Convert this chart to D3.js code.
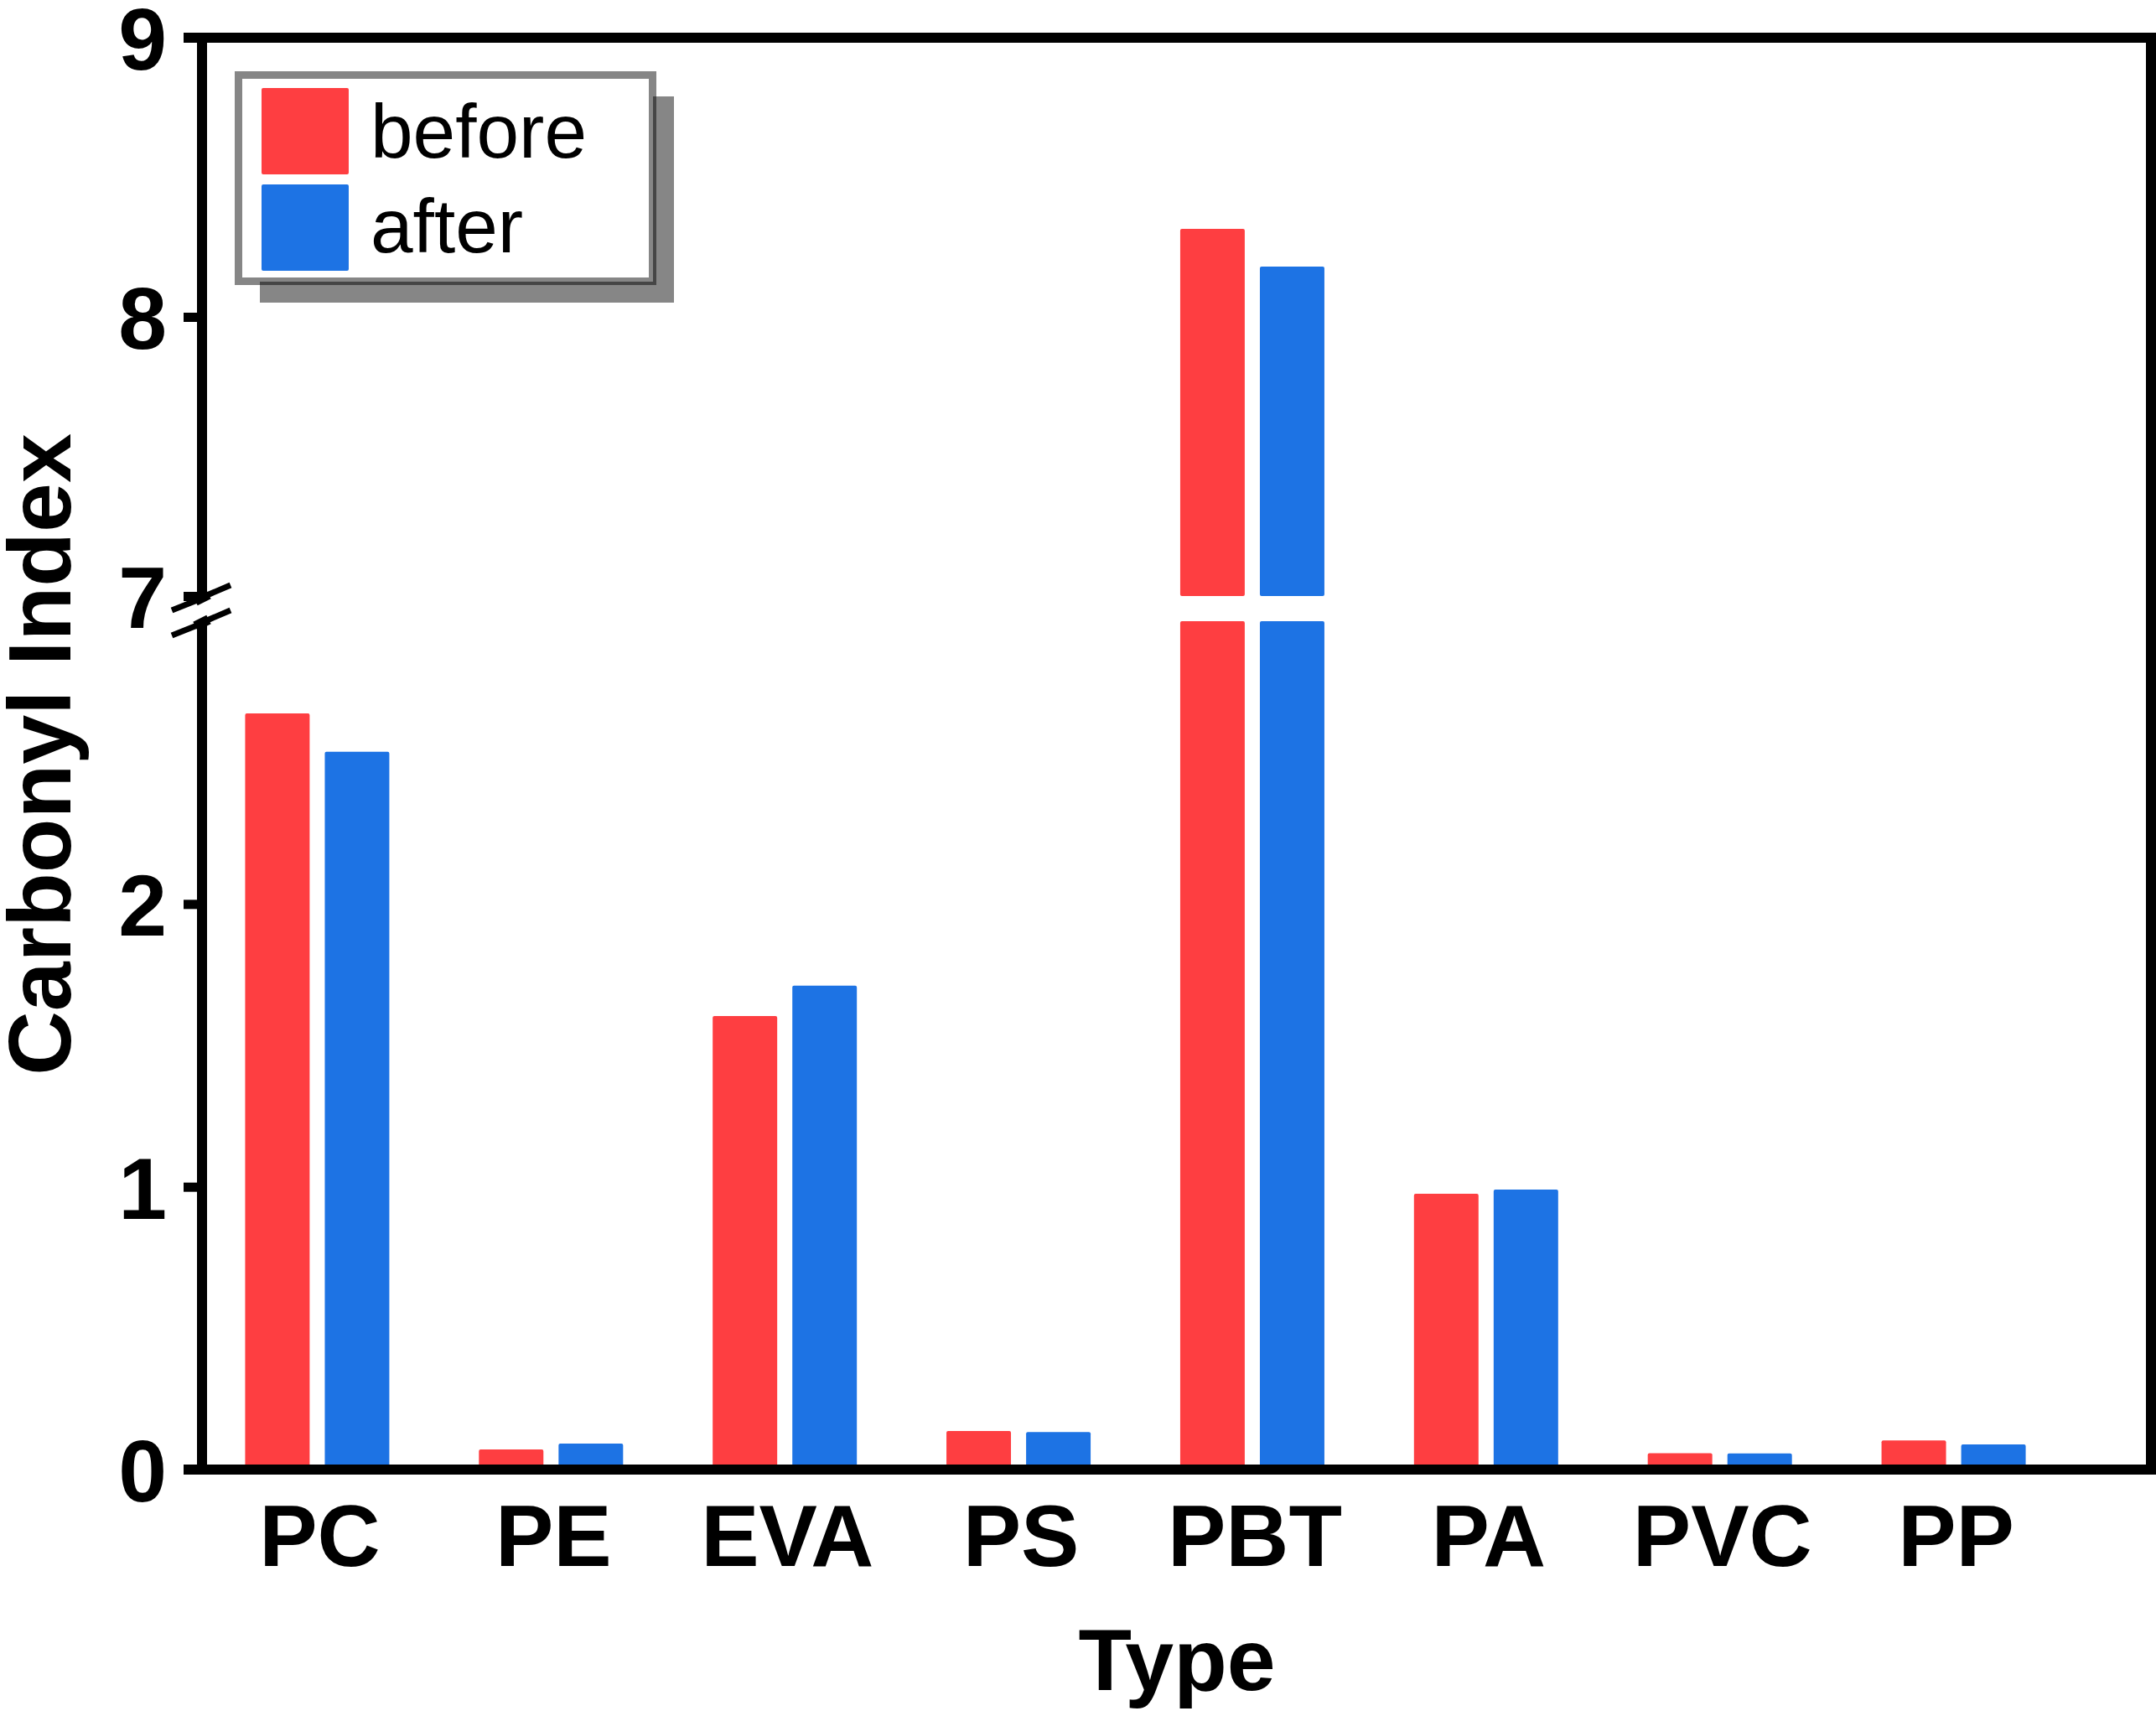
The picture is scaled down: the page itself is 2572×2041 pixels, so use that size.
<!DOCTYPE html>
<html>
<head>
<meta charset="utf-8">
<script src="https://cdn.jsdelivr.net/npm/d3@7"></script>
<style>
  body { margin: 0; background: #fff; }
  text { font-family: "Liberation Sans", Arial, sans-serif; }
</style>
</head>
<body>
<script>
// data
var types = ['PC', 'PE', 'EVA', 'PS', 'PBT', 'PA', 'PVC', 'PP'];
var before = [2.674, 0.071, 1.604, 0.136, 8.315, 0.975, 0.058, 0.103];
var after = [2.538, 0.092, 1.711, 0.133, 8.18, 0.99, 0.057, 0.089];
var seriesNames = ['before', 'after'];
var seriesColors = ['#FE3E41', '#1D73E4'];
var lowTicks = [0, 1, 2];
var highTicks = [7, 8, 9];

var W = 2572, H = 2041;
var axisX = 241, frameRight = 2566, frameTop = 45, zeroY = 1753;

var svg = d3.select('body').append('svg')
  .attr('width', W)
  .attr('height', H);

svg.append('rect').attr('width', W).attr('height', H).attr('fill', '#fff');

// broken y axis: 0-3 below, 7-9 above
var yLow = d3.scaleLinear().domain([0, 3]).range([zeroY, 741]);
var yHigh = d3.scaleLinear().domain([7, 9]).range([711, frameTop]);

var x = d3.scaleBand().domain(types).range([239, 2470]);
var x1 = d3.scaleBand().domain(seriesNames).range([-86, 86]).paddingInner(0.19);

// split a value into the pieces that fall in each axis segment
function segments(v) {
  var segs = [];
  segs.push({ y0: yLow(0), y1: yLow(Math.min(v, 3)) });
  if (v > 7) segs.push({ y0: yHigh(7), y1: yHigh(v) });
  return segs;
}

var rows = types.map((t, i) => ({ type: t, vals: [before[i], after[i]] }));

var bars = svg.append('g').attr('id', 'bars');
rows.forEach((r) => {
  r.vals.forEach((v, j) => {
    segments(v).forEach((s) => {
      bars.append('rect')
        .attr('x', x(r.type) + x.bandwidth() / 2 + x1(seriesNames[j]))
        .attr('width', x1.bandwidth())
        .attr('y', s.y1)
        .attr('height', s.y0 - s.y1)
        .attr('rx', 2)
        .attr('fill', seriesColors[j]);
    });
  });
});

// y axes
function styleAxis(g) {
  g.select('.domain').remove();
  g.selectAll('.tick line').attr('stroke', '#000').attr('stroke-width', 11);
  g.selectAll('.tick text')
    .attr('fill', '#000')
    .style('font-size', '104px')
    .style('font-weight', 'bold')
    .attr('dy', '0.36em');
}

svg.append('g')
  .attr('transform', 'translate(' + axisX + ',0)')
  .call(d3.axisLeft(yLow).tickValues(lowTicks).tickSize(22).tickPadding(20).tickFormat(d3.format('d')))
  .call(styleAxis);

svg.append('g')
  .attr('transform', 'translate(' + axisX + ',0)')
  .call(d3.axisLeft(yHigh).tickValues(highTicks).tickSize(22).tickPadding(20).tickFormat(d3.format('d')))
  .call(styleAxis);

// frame
var frame = svg.append('g').attr('stroke', '#000').attr('stroke-width', 12).attr('fill', 'none');
frame.append('line').attr('x1', axisX - 22).attr('x2', W).attr('y1', frameTop).attr('y2', frameTop);
frame.append('line').attr('x1', axisX - 22).attr('x2', W).attr('y1', zeroY).attr('y2', zeroY);
frame.append('line').attr('x1', frameRight).attr('x2', frameRight).attr('y1', frameTop - 6).attr('y2', zeroY + 6);
frame.append('line').attr('x1', axisX).attr('x2', axisX).attr('y1', frameTop - 6).attr('y2', yHigh(7) + 2);
frame.append('line').attr('x1', axisX).attr('x2', axisX).attr('y1', yLow(3) + 4).attr('y2', zeroY + 6);

// break marks
var breakG = svg.append('g').attr('stroke', '#000').attr('stroke-width', 7).attr('fill', 'none');
[yHigh(7) + 2, yLow(3) + 2].forEach((cy) => {
  breakG.append('path')
    .attr('d', 'M' + (axisX - 36) + ',' + (cy + 15) +
      ' L' + (axisX - 6) + ',' + (cy + 3) +
      ' L' + (axisX + 6) + ',' + (cy - 3) +
      ' L' + (axisX + 34) + ',' + (cy - 15));
  breakG.append('path')
    .attr('stroke-width', 12)
    .attr('d', 'M' + (axisX - 8) + ',' + (cy + 4) + ' L' + (axisX + 8) + ',' + (cy - 4));
});

// category labels
svg.append('g').selectAll('text')
  .data(types)
  .enter()
  .append('text')
  .attr('x', (d) => x(d) + x.bandwidth() / 2 + 3)
  .attr('y', 1868)
  .attr('text-anchor', 'middle')
  .style('font-size', '104px')
  .style('font-weight', 'bold')
  .text((d) => d);

// axis titles
svg.append('text')
  .attr('x', 1404)
  .attr('y', 2016)
  .attr('text-anchor', 'middle')
  .style('font-size', '104px')
  .style('font-weight', 'bold')
  .text('Type');

svg.append('text')
  .attr('transform', 'translate(84,900) rotate(-90)')
  .attr('text-anchor', 'middle')
  .style('font-size', '106px')
  .style('font-weight', 'bold')
  .text('Carbonyl Index');

// legend
var lg = svg.append('g').attr('id', 'legend');
lg.append('rect').attr('x', 310).attr('y', 115).attr('width', 494).attr('height', 246).attr('fill', '#868686');
lg.append('rect').attr('x', 284.5).attr('y', 89.5).attr('width', 494).attr('height', 246)
  .attr('fill', '#fff').attr('stroke', '#868686').attr('stroke-width', 9);
lg.append('path').attr('d', 'M310,338 L781,338 L781,115')
  .attr('fill', 'none').attr('stroke', '#454545').attr('stroke-width', 4);

seriesNames.forEach((s, i) => {
  lg.append('rect')
    .attr('x', 312).attr('y', 105 + i * 115)
    .attr('width', 104).attr('height', 103)
    .attr('rx', 2)
    .attr('fill', seriesColors[i]);
  lg.append('text')
    .attr('x', 442).attr('y', 188 + i * 113)
    .style('font-size', '91px')
    .text(s);
});
</script>
</body>
</html>
